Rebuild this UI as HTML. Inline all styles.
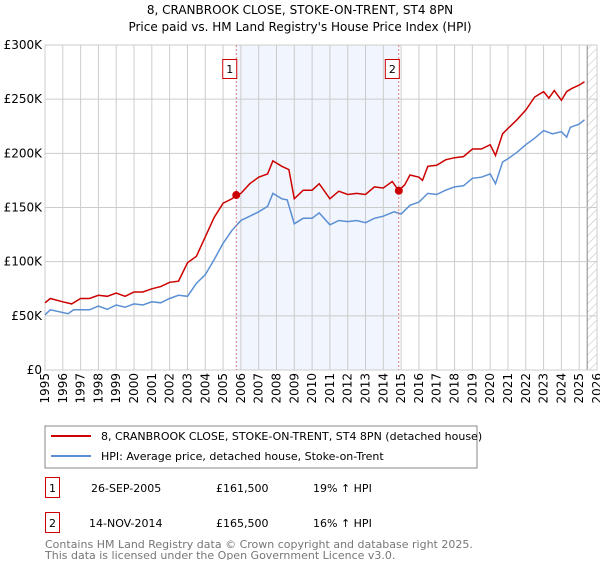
<!DOCTYPE html>
<html><head><meta charset="utf-8"><style>
body{margin:0;background:#fff;font-family:"Liberation Sans","DejaVu Sans",sans-serif;}
svg text{font-family:"DejaVu Sans","Liberation Sans",sans-serif;}
</style></head><body>
<svg id="c" width="600" height="560" xmlns="http://www.w3.org/2000/svg">
<defs><pattern id="h" width="6" height="6" patternUnits="userSpaceOnUse" patternTransform="rotate(45)"><line x1="0" y1="0" x2="0" y2="6" stroke="#bbb" stroke-width="1"/></pattern></defs>
<text x="300" y="14" text-anchor="middle" font-size="12" fill="#000">8, CRANBROOK CLOSE, STOKE-ON-TRENT, ST4 8PN</text>
<text x="300" y="31" text-anchor="middle" font-size="12" fill="#000">Price paid vs. HM Land Registry's House Price Index (HPI)</text>
<g id="grid"></g><g id="marks"></g><g id="axes"></g>
<rect x="45" y="426" width="432" height="42" fill="#fff" stroke="#888"/>
<line x1="51" y1="436" x2="91" y2="436" stroke="#cc0000" stroke-width="2"/>
<text x="101" y="440" font-size="11">8, CRANBROOK CLOSE, STOKE-ON-TRENT, ST4 8PN (detached house)</text>
<line x1="51" y1="456" x2="91" y2="456" stroke="#5b8fd4" stroke-width="2"/>
<text x="101" y="460" font-size="11">HPI: Average price, detached house, Stoke-on-Trent</text>
<rect x="45.5" y="477.5" width="14" height="20" fill="none" stroke="#cc0000"/>
<text x="52.5" y="492" font-size="11" text-anchor="middle">1</text>
<text x="91" y="492" font-size="11">26-SEP-2005</text>
<text x="216" y="492" font-size="11">£161,500</text>
<text x="313" y="492" font-size="11">19% ↑ HPI</text>
<rect x="45.5" y="512.5" width="14" height="20" fill="none" stroke="#cc0000"/>
<text x="52.5" y="527" font-size="11" text-anchor="middle">2</text>
<text x="89" y="527" font-size="11">14-NOV-2014</text>
<text x="216" y="527" font-size="11">£165,500</text>
<text x="313" y="527" font-size="11">16% ↑ HPI</text>
<text x="45" y="548" font-size="11" fill="#777">Contains HM Land Registry data © Crown copyright and database right 2025.</text>
<text x="45" y="559" font-size="11" fill="#777">This data is licensed under the Open Government Licence v3.0.</text>
</svg>
<script>
const hpiYears=[1995,1995.3,1996.3,1996.6,1997.5,1998,1998.5,1999,1999.5,2000,2000.5,2001,2001.5,2002,2002.5,2003,2003.5,2004,2004.5,2005,2005.5,2006,2006.5,2007,2007.5,2007.8,2008.3,2008.6,2009,2009.5,2010,2010.4,2011,2011.5,2012,2012.5,2013,2013.5,2014,2014.6,2015,2015.5,2016,2016.5,2017,2017.5,2018,2018.5,2019,2019.5,2020,2020.3,2020.7,2021,2021.5,2022,2022.5,2023,2023.5,2024,2024.3,2024.5,2025,2025.3];
const hpiValues=[51,55.6,52,55.6,55.6,59,56,60,58,61,60,63,62,66,69,68,80,88,102,117,129,138,142,146,151,163,158,157,135,140,140,145,134,138,137,138,136,140,142,146,144,152,155,163,162,166,169,170,177,178,181,172,192,195,201,208,214,221,218,220,215,224,227,231];
const propYears=[1995,1995.3,1996,1996.5,1997,1997.5,1998,1998.5,1999,1999.5,2000,2000.5,2001,2001.5,2002,2002.5,2003,2003.5,2004,2004.5,2005,2005.5,2005.74,2006,2006.5,2007,2007.5,2007.8,2008.3,2008.7,2009,2009.5,2010,2010.4,2011,2011.5,2012,2012.5,2013,2013.5,2014,2014.5,2014.87,2015.2,2015.5,2016,2016.2,2016.5,2017,2017.5,2018,2018.5,2019,2019.5,2020,2020.3,2020.7,2021,2021.5,2022,2022.5,2023,2023.3,2023.6,2024,2024.3,2024.6,2025,2025.3];
const propValues=[62,66,63,61,66,66,69,68,71,68,72,72,75,77,81,82,99,105,123,141,154,158,161.5,163,172,178,181,193,188,185,158,166,166,172,158,165,162,163,162,169,168,174,165.5,171,180,178,175,188,189,194,196,197,204,204,208,198,218,223,231,240,252,257,251,258,249,257,260,263,266];
const saleYears=[2005.74,2014.87];
const saleValues=[161.5,165.5];
const saleLabels=["1","2"];
const yTicks=[0,50,100,150,200,250,300];
const yTickLabels=["£0","£50K","£100K","£150K","£200K","£250K","£300K"];
const xTicks=[1995,1996,1997,1998,1999,2000,2001,2002,2003,2004,2005,2006,2007,2008,2009,2010,2011,2012,2013,2014,2015,2016,2017,2018,2019,2020,2021,2022,2023,2024,2025,2026];
const L=45,R=597,T=45,B=370;
const x=v=>L+(v-1995)/31*(R-L);
const y=v=>B-v/300*(B-T);
const NS="http://www.w3.org/2000/svg";
function mk(p,t,a){const e=document.createElementNS(NS,t);for(const k in a)e.setAttribute(k,a[k]);p.appendChild(e);return e;}
const g=document.getElementById('grid'),m=document.getElementById('marks'),ax=document.getElementById('axes');
mk(g,'rect',{x:L,y:T,width:R-L,height:B-T,fill:'#fff'});
const sh=mk(g,'rect',{x:x(saleYears[0]),y:T,width:x(saleYears[1])-x(saleYears[0]),height:B-T,fill:'#eef3fc',opacity:0.8});


const ht=mk(g,'rect',{x:x(2025.45),y:T,width:R-x(2025.45),height:B-T,fill:'url(#h)'});


mk(g,'line',{x1:x(2025.45),y1:T,x2:x(2025.45),y2:B,stroke:'#888'});
yTicks.forEach((v,i)=>{
 mk(g,'line',{x1:L,y1:y(v),x2:R,y2:y(v),stroke:'#ccc'});
 const t=mk(ax,'text',{x:L-3,y:y(v)+4,'text-anchor':'end','font-size':12});t.textContent=yTickLabels[i];
 
 
});
xTicks.forEach(v=>{
 mk(g,'line',{x1:x(v),y1:T,x2:x(v),y2:B,stroke:'#ccc'});
 const t=mk(ax,'text',{x:0,y:0,'text-anchor':'end','font-size':12,transform:`translate(${x(v)+4},${B+3}) rotate(-90)`});t.textContent=v;
 
 
});
mk(g,'rect',{x:L,y:T,width:R-L,height:B-T,fill:'none',stroke:'#ccc'});
function path(xs,vs){return xs.map((v,i)=>(i?'L':'M')+x(v).toFixed(1)+','+y(vs[i]).toFixed(1)).join('');}
const hp=mk(m,'path',{d:path(hpiYears,hpiValues),fill:'none',stroke:'#5b8fd4','stroke-width':1.5});


const pp=mk(m,'path',{d:path(propYears,propValues),fill:'none',stroke:'#cc0000','stroke-width':1.5});


saleYears.forEach((s,i)=>{
 mk(m,'line',{x1:x(s),y1:T,x2:x(s),y2:B,stroke:'#e06060','stroke-dasharray':'2,2','stroke-width':0.8});
 const c=mk(m,'circle',{cx:x(s),cy:y(saleValues[i]),r:4,fill:'#cc0000'});
 
 
 mk(m,'rect',{x:x(s)-13.5,y:59.5,width:14,height:19,fill:'#fff',stroke:'#cc0000'});
 const t=mk(m,'text',{x:x(s)-6.5,y:73,'text-anchor':'middle','font-size':11});t.textContent=saleLabels[i];
 
 
});
</script>
</body></html>
